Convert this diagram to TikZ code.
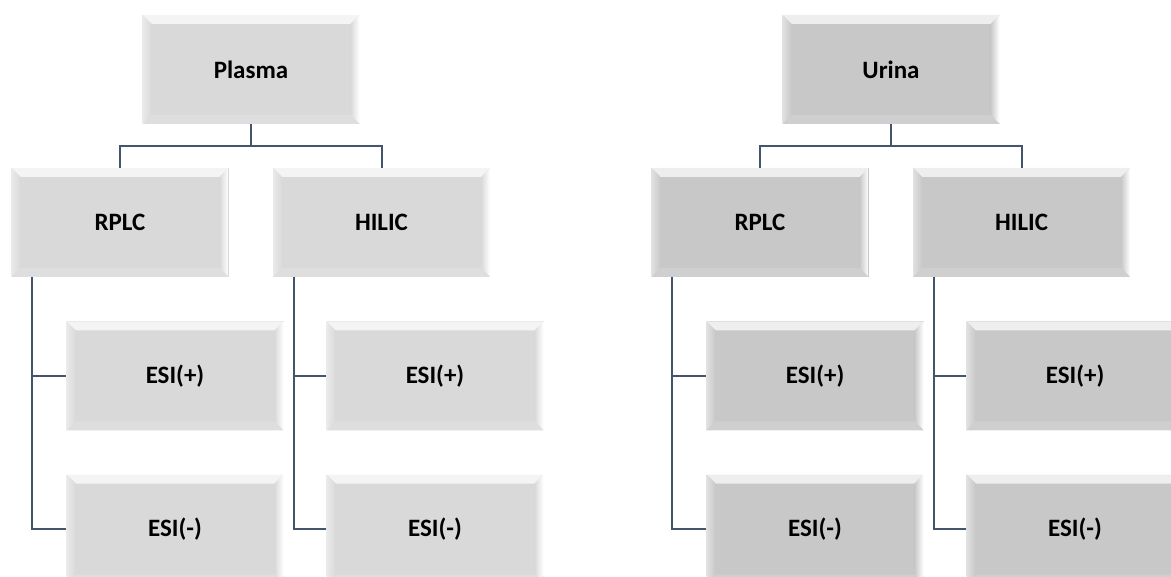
\documentclass[tikz,border=0pt]{standalone}
\usepackage{fontspec}
\setmainfont{Carlito}
\definecolor{plasmafill}{HTML}{D9D9D9}
\definecolor{urinafill}{HTML}{C8C8C8}
\definecolor{linkc}{HTML}{44546A}
\begin{document}
\begin{tikzpicture}[x=1pt,y=-1pt,
  bevel/.style={path picture={
    \coordinate (nw) at (path picture bounding box.north west);
    \coordinate (ne) at (path picture bounding box.north east);
    \coordinate (sw) at (path picture bounding box.south west);
    \coordinate (se) at (path picture bounding box.south east);
    % top facet
    \fill[#1!30!white] (nw) -- (ne) -- ([xshift=-9pt,yshift=-9pt]ne) -- ([xshift=9pt,yshift=-9pt]nw) -- cycle;
    % left facet
    \shade[left color=#1!55!white, right color=#1] (nw) -- ([xshift=9pt,yshift=-9pt]nw) -- ([xshift=9pt,yshift=9pt]sw) -- (sw) -- cycle;
    % right facet
    \shade[left color=#1, right color=white] (ne) -- (se) -- ([xshift=-9pt,yshift=9pt]se) -- ([xshift=-9pt,yshift=-9pt]ne) -- cycle;
    % bottom facet
    \fill[#1!88!white] (sw) -- (se) -- ([xshift=-9pt,yshift=9pt]se) -- ([xshift=9pt,yshift=9pt]sw) -- cycle;
  }},
  box/.style={rectangle, minimum width=217pt, minimum height=109pt, inner sep=0pt,
    fill=#1, bevel=#1, text=black,
    font=\fontsize{25}{30}\selectfont\bfseries},
  link/.style={draw=linkc, line width=2pt},
]
\useasboundingbox (0,0) rectangle (1171,577);
\clip (0,0) rectangle (1171,577);

% ---- Plasma tree ----
\node[box=plasmafill] (plasma) at (251,69.5) {Plasma};
\node[box=plasmafill] (prplc)  at (120,222.5) {RPLC};
\node[box=plasmafill] (philic) at (381.5,222.5) {HILIC};
\node[box=plasmafill] (prpos)  at (175,376) {ESI(+)};
\node[box=plasmafill] (prneg)  at (175,529) {ESI(-)};
\node[box=plasmafill] (phpos)  at (435,376) {ESI(+)};
\node[box=plasmafill] (phneg)  at (435,529) {ESI(-)};

% ---- Urina tree ----
\node[box=urinafill] (urina)  at (891,69.5) {Urina};
\node[box=urinafill] (urplc)  at (760,222.5) {RPLC};
\node[box=urinafill] (uhilic) at (1021.5,222.5) {HILIC};
\node[box=urinafill] (urpos)  at (815,376) {ESI(+)};
\node[box=urinafill] (urneg)  at (815,529) {ESI(-)};
\node[box=urinafill] (uhpos)  at (1075,376) {ESI(+)};
\node[box=urinafill] (uhneg)  at (1075,529) {ESI(-)};

% ---- connectors ----
\draw[link] (plasma.south) -- ++(0,22) -| (prplc.north);
\draw[link] (plasma.south) -- ++(0,22) -| (philic.north);
\draw[link] ([xshift=21pt]prplc.south west) |- (prpos.west);
\draw[link] ([xshift=21pt]prplc.south west) |- (prneg.west);
\draw[link] ([xshift=21pt]philic.south west) |- (phpos.west);
\draw[link] ([xshift=21pt]philic.south west) |- (phneg.west);

\draw[link] (urina.south) -- ++(0,22) -| (urplc.north);
\draw[link] (urina.south) -- ++(0,22) -| (uhilic.north);
\draw[link] ([xshift=21pt]urplc.south west) |- (urpos.west);
\draw[link] ([xshift=21pt]urplc.south west) |- (urneg.west);
\draw[link] ([xshift=21pt]uhilic.south west) |- (uhpos.west);
\draw[link] ([xshift=21pt]uhilic.south west) |- (uhneg.west);
\end{tikzpicture}
\end{document}
